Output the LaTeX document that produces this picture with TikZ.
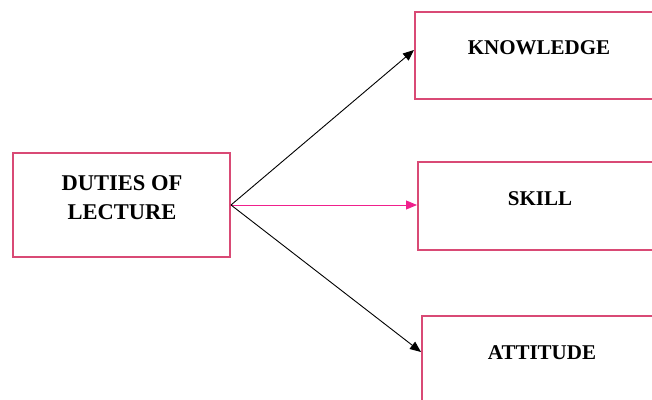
\documentclass[tikz,border=0pt]{standalone}
\usepackage{fontspec}
\setmainfont{Liberation Serif}
\usetikzlibrary{arrows.meta}
\definecolor{boxpink}{HTML}{D94A75}
\definecolor{arrowpink}{HTML}{F0208C}
\tikzset{
  box/.style={draw=boxpink, line width=2pt, fill=white, inner sep=0pt},
  lbl/.style={font=\bfseries\fontsize{21}{25}\selectfont, inner sep=0pt, anchor=center},
  conn/.style={line width=0.9pt, -{Triangle[length=11pt,width=9pt]}},
}
\begin{document}
\begin{tikzpicture}[x=1pt,y=-1pt]
\useasboundingbox (0,0) rectangle (652,399);
\clip (0,0) rectangle (652,399);
% boxes
\node[box, minimum width=217pt, minimum height=104pt] (duties) at (121.5,205) {};
\node[box, minimum width=247pt, minimum height=87pt] (know) at (538.5,55.5) {};
\node[box, minimum width=244pt, minimum height=88pt] (skill) at (540,206) {};
\node[box, minimum width=240pt, minimum height=88pt] (att) at (542,360) {};
% texts
\node[font=\bfseries\fontsize{22.5}{29}\selectfont, align=center, inner sep=0pt] (dutiesT) at (122,197.5) {DUTIES OF\\LECTURE};
\node[lbl] (knowT) at (539,48) {KNOWLEDGE};
\node[lbl] (skillT) at (540,199) {SKILL};
\node[lbl] (attT) at (542,353) {ATTITUDE};
% connectors
\coordinate (o) at (duties.east);
\draw[conn] (o) -- (know.west |- 0,50);
\draw[conn, draw=arrowpink, fill=arrowpink, -{Triangle[length=11pt,width=9pt,fill=arrowpink]}] (o) -- (skill.west |- o);
\draw[conn] (o) -- (att.west |- 0,352);
\end{tikzpicture}
\end{document}
